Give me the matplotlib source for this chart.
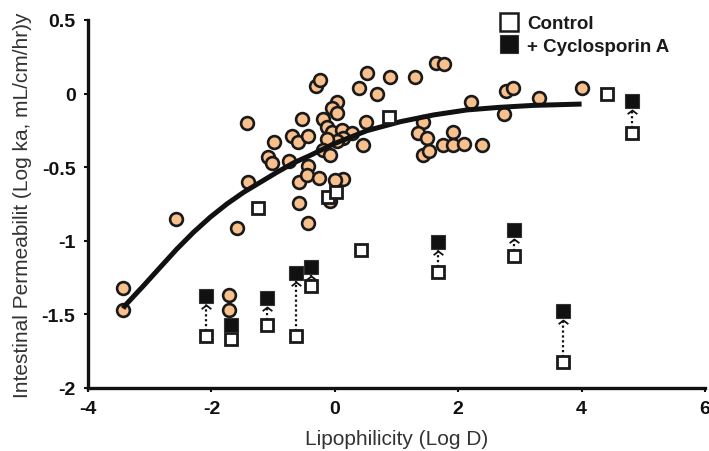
import matplotlib
matplotlib.use("Agg")
import matplotlib.pyplot as plt
from matplotlib.path import Path
from matplotlib.lines import Line2D
import matplotlib.transforms as mtransforms

# ---- data ----
circle_x = [-3.43, -3.43, -2.57, -1.42, -0.30, -0.24, 0.52, 0.39, 0.68, -0.53,
            0.04, -0.05, 0.04, -0.19, -0.13, -0.05, 0.12, 0.28, 0.13, 0.04,
            -0.13, 0.51, 0.46, -0.69, -0.60, -0.43, -0.98, -1.08, -1.02, -0.74,
            -0.43, -0.19, -0.08, -1.41, -0.58, -0.45, -0.26, 0.13, 0.00, -0.58,
            -1.59, -0.43, -0.08, -1.71, -1.71, 0.89, 1.30, 1.64, 1.77, 2.77,
            2.89, 3.31, 4.01, 2.74, 2.21, 1.43, 1.35, 1.49, 1.43, 1.53,
            1.75, 1.92, 1.92, 2.10, 2.39]
circle_y = [-1.32, -1.47, -0.85, -0.20, 0.05, 0.09, 0.14, 0.04, 0.00, -0.17,
            -0.06, -0.10, -0.13, -0.17, -0.23, -0.26, -0.25, -0.27, -0.30, -0.32,
            -0.31, -0.19, -0.35, -0.29, -0.33, -0.29, -0.33, -0.43, -0.47, -0.46,
            -0.49, -0.38, -0.42, -0.60, -0.60, -0.55, -0.57, -0.58, -0.59, -0.74,
            -0.91, -0.88, -0.73, -1.37, -1.47, 0.11, 0.11, 0.21, 0.20, 0.02,
            0.04, -0.03, 0.04, -0.14, -0.06, -0.19, -0.27, -0.30, -0.42, -0.39,
            -0.35, -0.26, -0.35, -0.34, -0.35]

# paired compounds: control (open) and + cyclosporin A (filled)
pair_x = [-2.09, -1.68, -1.10, -0.63, -0.39, 1.67, 2.90, 3.70, 4.82]
pair_control = [-1.65, -1.67, -1.57, -1.65, -1.31, -1.21, -1.10, -1.82, -0.27]
pair_csa = [-1.375, -1.57, -1.39, -1.22, -1.18, -1.01, -0.93, -1.48, -0.05]
pair_arrow = [True, False, True, True, True, True, True, True, True]

# control-only compounds
ctrl_x = [-1.24, -0.11, 0.02, 0.42, 0.88, 4.41]
ctrl_y = [-0.78, -0.70, -0.67, -1.06, -0.16, 0.00]

# fitted curve
curve_x = [-3.43, -3.40, -3.10, -2.83, -2.56, -2.29, -2.02, -1.75, -1.48, -1.21,
           -0.94, -0.67, -0.40, -0.02, 0.52, 1.06, 1.60, 2.14, 2.68, 3.22, 4.00]
curve_y = [-1.46, -1.44, -1.305, -1.18, -1.056, -0.942, -0.84, -0.75, -0.671, -0.603,
           -0.535, -0.471, -0.42, -0.342, -0.252, -0.191, -0.145, -0.111, -0.093, -0.080,
           -0.071]

x_ticks = [-4, -2, 0, 2, 4, 6]
y_ticks = [-2, -1.5, -1, -0.5, 0, 0.5]
y_tick_labels = ["-2", "-1.5", "-1", "-0.5", "0", "0.5"]

# ---- figure ----
plt.rcParams['font.family'] = ['Liberation Sans', 'DejaVu Sans']
plt.rcParams['axes.unicode_minus'] = False
fig = plt.figure(figsize=(7.09, 4.52), dpi=100)
ax = fig.add_axes([88/709, 1-389/452, (705-88)/709, (389-21)/452])
ax.set_xlim(-4, 6)
ax.set_ylim(-2, 0.5)

edge = '#1a1a1a'
peach = '#F7C08C'

ax.plot(circle_x, circle_y, 'o', ms=9.2, mfc=peach, mec=edge, mew=1.9, zorder=3,
        linestyle='none')
ax.plot(curve_x, curve_y, '-', color='#111111', lw=3.6, zorder=4,
        solid_capstyle='butt', solid_joinstyle='round')

# arrows between paired squares
chevron = Path([(-1, -0.75), (0, 0), (1, -0.75)], [Path.MOVETO, Path.LINETO, Path.LINETO])
tip_tr = mtransforms.offset_copy(ax.transData, fig=fig, x=0, y=-9, units='dots')
for x, yc, yf, a in zip(pair_x, pair_control, pair_csa, pair_arrow):
    if a:
        ax.plot([x, x], [yc, yf], linestyle=(0, (1, 1.2)), color='#111111', lw=1.6, zorder=5)
        ax.plot([x], [yf], marker=chevron, ms=7, mfc='none', mec='#111111', mew=1.3,
                transform=tip_tr, zorder=6, linestyle='none')

ax.plot(pair_x, pair_control, 's', ms=8, mfc='white', mec=edge, mew=2.0, zorder=7,
        linestyle='none')
ax.plot(ctrl_x, ctrl_y, 's', ms=8, mfc='white', mec=edge, mew=2.0, zorder=7,
        linestyle='none')
ax.plot(pair_x, pair_csa, 's', ms=9.5, mfc='#111111', mec='#333333', mew=0.8, zorder=7,
        linestyle='none')

# axes styling
for s in ['top', 'right']:
    ax.spines[s].set_visible(False)
for s in ['left', 'bottom']:
    ax.spines[s].set_linewidth(2.4)
    ax.spines[s].set_color('#111111')
ax.set_xticks(x_ticks)
ax.set_yticks(y_ticks)
ax.set_yticklabels(y_tick_labels)
ax.tick_params(axis='both', direction='out', length=3, width=1.5, colors='#111111',
               labelsize=14, pad=6)
for lab in ax.get_xticklabels() + ax.get_yticklabels():
    lab.set_fontweight('bold')

ax.set_xlabel('Lipophilicity (Log D)', fontsize=15, color='#333333', labelpad=8)
ax.set_ylabel('Intestinal Permeabilit (Log ka, mL/cm/hr)y', fontsize=15,
              color='#333333', labelpad=7)

handles = [Line2D([], [], marker='s', ms=12.5, mfc='white', mec=edge, mew=1.8, linestyle='none'),
           Line2D([], [], marker='s', ms=12.5, mfc='#111111', mec='#333333', mew=0.8, linestyle='none')]
leg = ax.legend(handles, ['Control', '+ Cyclosporin A'], loc='upper left',
                bbox_to_anchor=(500/709, 1-16/452), bbox_transform=fig.transFigure,
                frameon=False, handlelength=1.0, handletextpad=0.45, labelspacing=0.3,
                borderpad=0, borderaxespad=0,
                prop={'weight': 'bold', 'size': 13.5})
for t in leg.get_texts():
    t.set_color('#1a1a1a')

fig.savefig('out.png', dpi=100)
